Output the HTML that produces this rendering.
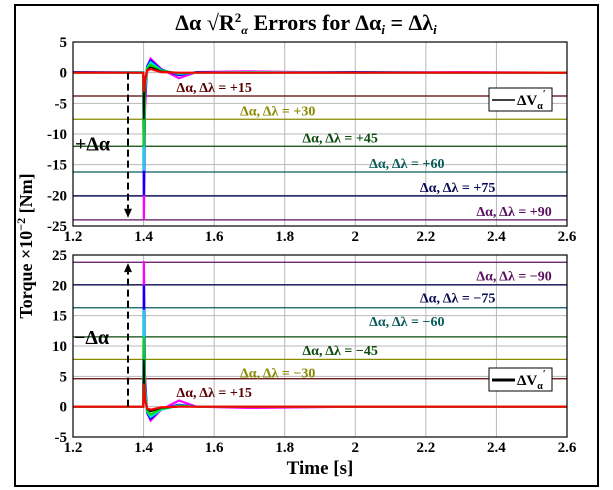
<!DOCTYPE html>
<html><head><meta charset="utf-8">
<style>
html,body{margin:0;padding:0;background:#fff;}
svg{display:block;font-family:"Liberation Serif",serif;}
</style></head>
<body>
<svg id="chart" width="613" height="490" viewBox="0 0 613 490" xmlns="http://www.w3.org/2000/svg">
<rect x="15" y="5" width="583" height="481" fill="#fff" stroke="#000" stroke-width="2"/>
<text x="306" y="30" text-anchor="middle" font-size="22" font-weight="bold">Δα √R<tspan font-size="13" dy="-8">2</tspan><tspan font-size="12" dy="12" font-style="italic">α</tspan><tspan dy="-4"> Errors for Δα</tspan><tspan font-size="13" dy="4" font-style="italic">i</tspan><tspan dy="-4"> = Δλ</tspan><tspan font-size="13" dy="4" font-style="italic">i</tspan></text>
<text transform="translate(32,246) rotate(-90)" text-anchor="middle" font-size="18" font-weight="bold">Torque ×10<tspan font-size="12" dy="-7">−2</tspan><tspan dy="7"> [Nm]</tspan></text>
<text x="320" y="474" text-anchor="middle" font-size="19" font-weight="bold">Time [s]</text>
<g id="top"></g>
<g id="bot"></g>
</svg>
<script>
const xTicks = [1.2,1.4,1.6,1.8,2.0,2.2,2.4,2.6];
const xTickLabels = ["1.2","1.4","1.6","1.8","2","2.2","2.4","2.6"];
const topYTicks = [5,0,-5,-10,-15,-20,-25];
const botYTicks = [25,20,15,10,5,0,-5];
const topLevels = [-3.8,-7.6,-12,-16.2,-20.1,-24];
const topLevelLabels = ["Δα, Δλ = +15","Δα, Δλ = +30","Δα, Δλ = +45","Δα, Δλ = +60","Δα, Δλ = +75","Δα, Δλ = +90"];
const topLabelX = [1.6,1.78,1.957,2.146,2.29,2.45];
const botLevels = [4.6,7.8,11.5,16.3,20.1,23.8];
const botLevelLabels = ["Δα, Δλ = +15","Δα, Δλ = −30","Δα, Δλ = −45","Δα, Δλ = −60","Δα, Δλ = −75","Δα, Δλ = −90"];
const botLabelX = [1.6,1.78,1.957,2.146,2.29,2.45];
const levelColors = ["#5a0000","#8a8a00","#0a4a0a","#0a5a5a","#0a0a55","#5a1060"];
const traceTimes = [1.2,1.399,1.401,1.404,1.41,1.42,1.45,1.5,1.55,1.7,2.0,2.3,2.6];
const traceColors = ["#ff00ff","#0000ff","#00e0e0","#00dd00","#000000","#ff0000"];
const topSeries = [
 [0.1,0.1,-24,-6,1,2.3,0.6,-0.9,0.1,0.2,0,0.1,0],
 [0.1,0,-20,-4,1,2.0,0.5,-0.4,0.1,0,0.1,0,0],
 [0,0.1,-16,-3,0.8,1.7,0.4,-0.2,0,0.1,0,0,0],
 [0,0,-12,-2,0.6,1.3,0.3,-0.1,0,0,0,0,0],
 [0,0,-7.6,-1.5,0.4,0.9,0.2,0,0,0,0,0,0],
 [0,0,-3.2,-1,0.3,0.6,0.1,0,0,0,0,0,0]
];
const botSeries = [
 [0,0,24,5,-1,-2.3,-0.5,1,0,-0.2,0,0,0],
 [0,0,20,4,-1,-2.0,-0.4,0.3,0,0,0,0,0],
 [0,0,16,3,-0.8,-1.7,-0.5,0.2,0,0,0,0,0],
 [0,0,11.5,2,-0.6,-1.3,-0.3,0.1,0,0,0,0,0],
 [0,0,7.8,1.5,-0.4,-0.8,-0.2,0,0,0,0,0,0],
 [0,0,3.8,1,-0.3,-0.5,-0.1,0,0,0,0,0,0]
];
const NS="http://www.w3.org/2000/svg";
function mk(parent,tag,attrs){const e=document.createElementNS(NS,tag);for(const k in attrs)e.setAttribute(k,attrs[k]);parent.appendChild(e);return e;}
function panel(gid,ymin,ymax,top,bottom,yTicks,levels,labels,labelX,series,legY,sign){
 const g=document.getElementById(gid);
 const L=73,R=567;
 const xs=t=>L+(t-1.2)/(1.4)*(R-L);
 const ys=v=>top+(ymax-v)/(ymax-ymin)*(bottom-top);
 let bg=mk(g,'rect',{x:L,y:top,width:R-L,height:bottom-top,fill:'#fff'});
 
 
 xTicks.forEach((t,i)=>{
  let l=mk(g,'line',{x1:xs(t),x2:xs(t),y1:top,y2:bottom,stroke:'#b8b8b8','stroke-width':1});
  
  
  let tx=mk(g,'text',{x:xs(t),y:bottom+15,'text-anchor':'middle','font-size':15,'font-weight':'bold'});
  tx.textContent=xTickLabels[i];
  
  
 });
 yTicks.forEach(v=>{
  let l=mk(g,'line',{x1:L,x2:R,y1:ys(v),y2:ys(v),stroke:'#b8b8b8','stroke-width':1});
  
  
  let tx=mk(g,'text',{x:L-6,y:ys(v)+5,'text-anchor':'end','font-size':15,'font-weight':'bold'});
  tx.textContent=String(v);
  
  
 });
 levels.forEach((v,i)=>{
  let l=mk(g,'line',{x1:L,x2:R,y1:ys(v),y2:ys(v),stroke:levelColors[i],'stroke-width':1.3});
  
  
  let tx=mk(g,'text',{x:xs(labelX[i]),y:ys(v)-4,'text-anchor':'middle','font-size':14,'font-weight':'bold',fill:levelColors[i]});
  if(sign>0){tx.setAttribute('y',ys(v)+18);}
  tx.textContent=labels[i];
  
  
 });
 series.forEach((s,i)=>{
  const d=s.map((v,j)=>(j?'L':'M')+xs(traceTimes[j]).toFixed(1)+','+ys(v).toFixed(1)).join(' ');
  let p=mk(g,'path',{d:d,fill:'none',stroke:traceColors[i],'stroke-width':i==4?1.5:2.2});
  
  
 });
 let fr=mk(g,'rect',{x:L,y:top,width:R-L,height:bottom-top,fill:'none',stroke:'#000','stroke-width':1.2});
 
 
 let lg=mk(g,'g',{});
 
 
 mk(lg,'rect',{x:489,y:legY,width:63,height:23,fill:'#fff',stroke:'#000','stroke-width':1});
 mk(lg,'line',{x1:492,x2:515,y1:legY+12,y2:legY+12,stroke:'#000','stroke-width':sign>0?3:1.5});
 let lt=mk(lg,'text',{x:517,y:legY+17,'font-size':15,'font-weight':'bold'});
 lt.innerHTML='ΔV<tspan font-size="10" dy="4">α</tspan><tspan font-size="10" dy="-12">′</tspan>';
 const z=ys(0), far=ys(sign<0?-23.5:23.5);
 let ar=mk(g,'line',{x1:128,x2:128,y1:z,y2:far+(sign<0?-8:8),stroke:'#000','stroke-width':2,'stroke-dasharray':'7,4'});
 
 
 const hy=far;
 let hd=mk(g,'path',{d:sign<0?`M124,${hy-8} L132,${hy-8} L128,${hy+1} Z`:`M124,${hy+8} L132,${hy+8} L128,${hy-1} Z`,fill:'#000'});
 
 
 let an=mk(g,'text',{x:sign<0?75:74,y:sign<0?ys(-12)+4:ys(11)+4,'font-size':20,'font-weight':'bold'});
 an.textContent=sign<0?'+Δα':'−Δα';
 
 
}
panel('top',-25,5,42,226,topYTicks,topLevels,topLevelLabels,topLabelX,topSeries,88,-1);
panel('bot',-5,25,255,437,botYTicks,botLevels,botLevelLabels,botLabelX,botSeries,368,1);
</script>
</body></html>
